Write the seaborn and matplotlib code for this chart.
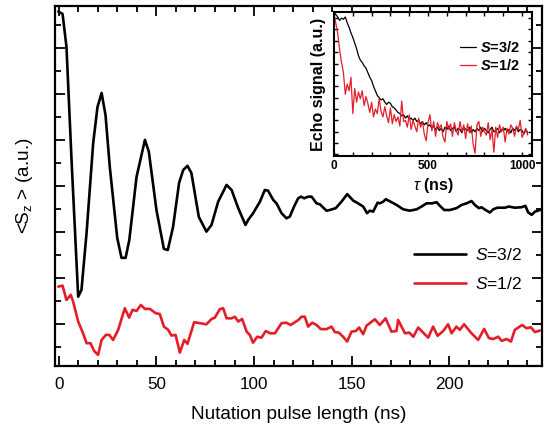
import matplotlib
matplotlib.use("Agg")
import matplotlib.pyplot as plt
import seaborn as sns
import pandas as pd
from matplotlib.ticker import MultipleLocator, NullFormatter

# ---------------- main panel data (nutation) ----------------
t32 = [-0.3, 1.9, 3.9, 6.5, 9.9, 11.6, 14.2, 17.6, 19.8, 21.9, 23.9, 26.1, 29.9, 32.1, 34.2,
       36.1, 39.8, 44.1, 46.1, 50.0, 53.8, 55.8, 58.5, 61.6, 63.7, 65.9, 67.9, 71.7, 75.6,
       78.2, 81.6, 85.9, 88.5, 91.9, 95.6, 97.0, 99.5, 103.0, 105.5, 107.2, 109.8, 111.5,
       114.1, 116.6, 118.3, 120.5, 122.6, 124.0, 125.7, 127.7, 129.5, 132.0, 133.7, 137.1,
       138.8, 141.8, 144.8, 147.7, 150.8, 153.3, 155.9, 157.9, 159.3, 161.0, 163.3, 164.4,
       166.1, 167.5, 170.4, 173.0, 176.4, 179.8, 183.3, 185.8, 188.4, 191.2, 193.5, 195.2,
       197.4, 200.3, 203.7, 206.3, 208.9, 211.4, 213.1, 215.2, 216.5, 218.6, 220.8, 222.5,
       224.7, 228.5, 230.5, 233.6, 237.0, 239.0, 240.4, 242.2, 243.9, 246.4]
s32 = [15.57, 15.47, 14.04, 9.12, 3.17, 3.47, 5.94, 9.86, 11.42, 12.03, 11.07, 8.81, 5.73, 4.86,
       4.86, 5.64, 8.38, 9.99, 9.47, 6.94, 5.25, 5.20, 6.20, 8.12, 8.68, 8.86, 8.55, 6.64, 6.00,
       6.29, 7.30, 8.03, 7.81, 7.02, 6.29, 6.51, 6.80, 7.30, 7.81, 7.78, 7.38, 7.23, 6.80, 6.58,
       6.65, 7.09, 7.45, 7.52, 7.45, 7.52, 7.52, 7.23, 7.19, 6.91, 6.94, 7.02, 7.30, 7.63, 7.35,
       7.23, 7.09, 6.80, 6.91, 6.87, 7.26, 7.23, 7.30, 7.41, 7.28, 7.16, 6.97, 6.91, 6.97, 7.09,
       7.23, 7.23, 7.28, 7.12, 6.94, 6.94, 7.02, 7.16, 7.23, 7.33, 7.16, 7.02, 7.06, 6.94, 6.83,
       6.97, 7.04, 7.04, 7.09, 7.04, 7.06, 7.12, 6.84, 6.73, 6.87, 6.94]

t12 = [-0.3, 1.9, 3.9, 6.1, 7.3, 9.9, 12.4, 14.2, 16.2, 18.1, 20.1, 21.9, 24.1, 25.8, 27.8,
       30.4, 33.8, 36.0, 37.7, 39.8, 42.0, 44.1, 46.6, 49.7, 51.7, 53.8, 56.0, 57.7, 59.8,
       62.0, 64.2, 65.9, 69.3, 72.2, 75.6, 78.2, 79.9, 82.5, 84.2, 85.9, 88.5, 90.2, 91.9,
       93.9, 96.2, 97.8, 99.5, 101.6, 103.8, 106.0, 108.1, 110.7, 114.1, 116.6, 118.7, 120.9,
       122.6, 124.3, 126.0, 127.7, 129.8, 132.0, 134.2, 137.1, 139.7, 141.4, 143.4, 145.6,
       147.7, 149.9, 152.2, 153.8, 155.9, 157.6, 161.9, 164.4, 167.4, 170.4, 173.0, 173.8,
       177.3, 179.5, 181.6, 184.1, 186.6, 189.2, 191.7, 194.0, 196.9, 199.4, 201.2, 203.7,
       205.4, 207.6, 211.4, 214.8, 217.9, 220.3, 222.5, 225.1, 226.8, 229.4, 231.6, 233.6,
       237.3, 239.6, 241.8, 243.9, 246.4]
s12 = [3.61, 3.65, 3.03, 3.25, 2.96, 2.09, 1.58, 1.15, 1.15, 0.81, 0.64, 1.29, 1.51, 1.51, 1.29,
       1.73, 2.67, 2.26, 2.60, 2.55, 2.81, 2.64, 2.64, 2.45, 2.42, 1.87, 1.73, 1.48, 1.51,
       0.74, 1.29, 1.12, 2.06, 2.02, 1.97, 2.20, 2.26, 2.63, 2.67, 2.23, 2.23, 2.30, 2.09,
       2.20, 1.65, 1.51, 1.17, 1.43, 1.39, 1.68, 1.58, 1.58, 2.02, 2.04, 1.94, 2.06,
       2.15, 2.30, 2.30, 1.87, 2.04, 1.94, 1.76, 1.76, 1.87, 1.63, 1.61, 1.43,
       1.22, 1.65, 1.68, 1.83, 1.54, 1.91, 2.19, 1.94, 2.23, 1.65, 1.68, 2.16,
       1.58, 1.61, 1.43, 1.83, 1.61, 1.39, 1.87, 1.47, 1.68, 1.97, 1.58, 1.87,
       1.73, 1.97, 1.58, 1.29, 1.77, 1.37, 1.33, 1.43, 1.25, 1.33, 1.22, 1.73,
       1.94, 1.80, 1.84, 1.63, 1.70]

# ---------------- inset data (echo decay) ----------------
tau = list(range(0, 1040, 10))
echo32 = [12.5, 12.3, 12.1, 11.8, 12.0, 11.9, 12.1, 11.6, 11.2, 10.7,
          10.3, 9.8, 9.3, 8.7, 8.3, 8.1, 7.8, 7.6, 7.2, 6.8,
          6.5, 6.0, 5.6, 5.2, 5.0, 4.8, 4.9, 4.6, 4.4, 4.6,
          4.5, 4.2, 4.1, 3.9, 3.7, 3.6, 3.4, 3.5, 3.2, 3.4,
          3.1, 3.2, 3.0, 3.2, 2.9, 3.0, 2.7, 2.9, 2.6, 2.8,
          2.5, 2.6, 2.3, 2.5, 2.2, 2.4, 2.1, 2.3, 2.0, 2.4,
          2.2, 2.5, 2.1, 2.3, 2.4, 2.0, 2.3, 2.2, 1.9, 2.4,
          2.2, 2.1, 2.4, 1.9, 2.2, 2.0, 2.3, 2.1, 2.4, 2.0,
          2.3, 2.1, 1.9, 2.2, 2.4, 2.0, 2.1, 2.3, 1.9, 2.2,
          2.1, 2.3, 2.0, 2.2, 1.9, 2.3, 2.1, 2.4, 2.0, 2.2,
          2.1, 1.8, 2.2, 1.9]
echo12 = [12.3, 11.5, 10.6, 9.2, 8.1, 7.2, 5.3, 6.2, 5.6, 6.8,
          3.6, 5.8, 4.6, 5.5, 4.9, 5.6, 4.3, 5.1, 4.5, 3.7,
          4.6, 3.3, 4.0, 3.6, 4.9, 3.8, 3.3, 4.2, 3.4, 2.8,
          4.1, 2.7, 3.5, 2.9, 3.3, 2.5, 4.7, 2.9, 3.0, 2.4,
          3.5, 2.2, 3.0, 2.5, 2.0, 3.2, 2.4, 2.9, 1.8, 1.2,
          2.8, 3.5, 2.1, 2.9, 1.6, 2.8, 2.3, 2.6, 1.5, 1.1,
          2.9, 2.2, 2.7, 1.6, 2.8, 2.1, 1.7, 2.9, 2.0, 2.6,
          1.4, 2.7, 1.9, 2.5, 0.9, 0.1, 2.6, 2.9, 1.6, 2.4,
          2.0, 1.7, 2.8, 1.3, 2.2, 0.2, 2.4, 1.5, 2.6, 2.0,
          2.4, 1.1, 2.3, 1.8, 2.6, 2.3, 1.6, 2.5, 2.2, 3.0,
          1.5, 1.9, 2.3, 1.7]

RED = "#e31e28"

sns.set_theme(style="ticks")
plt.rcParams.update({
    "font.family": ["Liberation Sans", "DejaVu Sans"],
    "mathtext.fontset": "custom",
    "mathtext.rm": "Liberation Sans",
    "mathtext.it": "Liberation Sans:italic",
    "mathtext.bf": "Liberation Sans:bold",
    "mathtext.bfit": "Liberation Sans:bold:italic",
    "text.color": "black",
    "axes.labelcolor": "black",
    "axes.edgecolor": "black",
    "xtick.color": "black",
    "ytick.color": "black",
})

fig = plt.figure(figsize=(5.44, 4.29), dpi=100)
ax = fig.add_axes([0.101, 0.147, 0.8953, 0.839])

sns.lineplot(x=t32, y=s32, ax=ax, color="black", lw=1.9, sort=False,
             estimator=None, label=r"$\mathit{S}$=3/2")
sns.lineplot(x=t12, y=s12, ax=ax, color=RED, lw=1.9, sort=False,
             estimator=None, label=r"$\mathit{S}$=1/2")

ax.set_xlim(-2, 247.5)
ax.set_ylim(0.16, 15.81)
ax.xaxis.set_major_locator(MultipleLocator(50))
ax.xaxis.set_minor_locator(MultipleLocator(10))
ax.yaxis.set_major_locator(MultipleLocator(2))
ax.yaxis.set_minor_locator(MultipleLocator(1))
ax.yaxis.set_major_formatter(NullFormatter())
ax.tick_params(which="both", direction="in", top=True, right=True, width=1.3)
ax.tick_params(which="major", length=7, labelsize=12.3, pad=8)
ax.tick_params(which="minor", length=4)
for s in ax.spines.values():
    s.set_linewidth(1.6)
ax.set_xlabel("Nutation pulse length (ns)", fontsize=13.7, labelpad=10)
ax.set_ylabel(r"<S$_{\mathregular{z}}$ > (a.u.)", fontsize=13.7, labelpad=6)
ax.legend(loc="upper left", bbox_to_anchor=(0.738, 0.33), frameon=False,
          fontsize=12.5, handlelength=3.0, labelspacing=0.75, borderpad=0,
          borderaxespad=0, handletextpad=0.5)

# ---------------- inset ----------------
axin = fig.add_axes([0.614, 0.636, 0.364, 0.335])
sns.lineplot(x=tau, y=echo32, ax=axin, color="black", lw=0.9, sort=False,
             estimator=None, label=r"$\mathbfit{S}$=3/2")
sns.lineplot(x=tau, y=echo12, ax=axin, color=RED, lw=0.9, sort=False,
             estimator=None, label=r"$\mathbfit{S}$=1/2")
axin.set_xlim(0, 1053)
axin.set_ylim(-0.15, 12.5)
axin.set_xticks([0, 500, 1000], labels=["0", "500", "1000"],
                fontweight="bold", fontsize=8.5)
axin.xaxis.set_minor_locator(MultipleLocator(100))
axin.yaxis.set_major_locator(MultipleLocator(1))
axin.yaxis.set_major_formatter(NullFormatter())
axin.tick_params(which="both", direction="in", top=True, right=True,
                 length=3, width=1.0, pad=3)
for s in axin.spines.values():
    s.set_linewidth(1.5)
axin.set_xlabel(r"$\mathit{\tau}$ (ns)", fontsize=11.5, fontweight="bold", labelpad=3)
axin.set_ylabel("Echo signal (a.u.)", fontsize=11.5, fontweight="bold", labelpad=3)
axin.legend(loc="upper right", bbox_to_anchor=(0.94, 0.805), frameon=False,
            prop={"weight": "bold", "size": 10.5}, handlelength=1.1,
            labelspacing=0.15, borderpad=0, borderaxespad=0, handletextpad=0.3)

fig.savefig("out.png", dpi=100)
